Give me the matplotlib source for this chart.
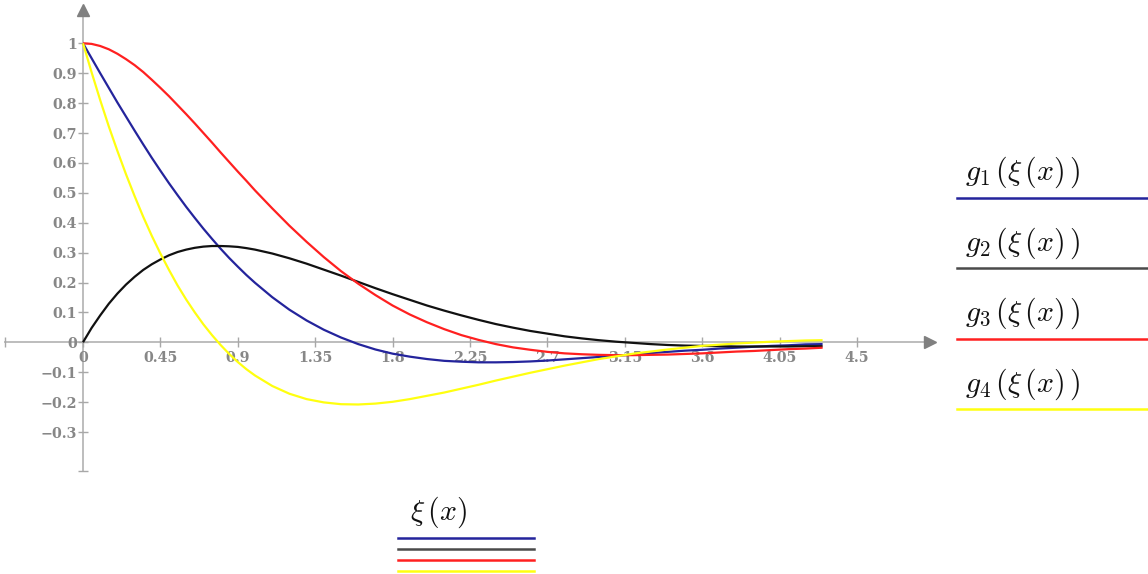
import matplotlib
matplotlib.use("Agg")
import matplotlib.pyplot as plt
from matplotlib.lines import Line2D

# ---- data ----
x_vals = [0.0, 0.05, 0.1, 0.15, 0.2, 0.25, 0.3, 0.35, 0.4, 0.45, 0.5, 0.55, 0.6, 0.65,
          0.7, 0.75, 0.8, 0.85, 0.9, 0.95,
          1.0, 1.1, 1.2, 1.3, 1.4, 1.5, 1.6, 1.7, 1.8, 1.9,
          2.0, 2.1, 2.2, 2.3, 2.4, 2.5, 2.6, 2.7, 2.8, 2.9,
          3.0, 3.1, 3.2, 3.3, 3.4, 3.5, 3.6, 3.7, 3.8, 3.9,
          4.0, 4.1, 4.2, 4.3]

g1 = [1.000, 0.950, 0.900, 0.851, 0.802, 0.755, 0.708, 0.662, 0.617, 0.574, 0.532, 0.492,
      0.453, 0.416, 0.380, 0.346, 0.313, 0.282, 0.253, 0.225,
      0.199, 0.151, 0.109, 0.073, 0.042, 0.016, -0.006, -0.024, -0.038, -0.048,
      -0.056, -0.062, -0.065, -0.067, -0.067, -0.066, -0.064, -0.061, -0.057, -0.053,
      -0.049, -0.045, -0.041, -0.036, -0.032, -0.028, -0.025, -0.021, -0.018, -0.015,
      -0.012, -0.010, -0.007, -0.006]

g2 = [0.000, 0.048, 0.090, 0.129, 0.163, 0.193, 0.219, 0.242, 0.261, 0.277, 0.291, 0.302,
      0.310, 0.316, 0.320, 0.322, 0.322, 0.321, 0.319, 0.315,
      0.310, 0.297, 0.281, 0.263, 0.243, 0.223, 0.202, 0.181, 0.161, 0.142,
      0.123, 0.106, 0.090, 0.075, 0.061, 0.049, 0.038, 0.029, 0.020, 0.013,
      0.007, 0.002, -0.002, -0.006, -0.009, -0.011, -0.012, -0.013, -0.014, -0.014,
      -0.014, -0.014, -0.013, -0.013]

g3 = [1.000, 0.998, 0.991, 0.980, 0.965, 0.947, 0.927, 0.904, 0.878, 0.851, 0.823, 0.793,
      0.763, 0.732, 0.700, 0.668, 0.635, 0.603, 0.571, 0.540,
      0.508, 0.448, 0.390, 0.336, 0.285, 0.238, 0.196, 0.158, 0.123, 0.093,
      0.067, 0.044, 0.024, 0.008, -0.006, -0.017, -0.025, -0.032, -0.037, -0.040,
      -0.042, -0.043, -0.043, -0.042, -0.041, -0.039, -0.037, -0.034, -0.031, -0.029,
      -0.026, -0.023, -0.021, -0.018]

g4 = [1.000, 0.903, 0.810, 0.722, 0.640, 0.562, 0.489, 0.420, 0.356, 0.297, 0.242, 0.190,
      0.143, 0.100, 0.060, 0.024, -0.009, -0.039, -0.066, -0.090,
      -0.111, -0.146, -0.172, -0.190, -0.201, -0.207, -0.208, -0.205, -0.199, -0.190,
      -0.179, -0.168, -0.155, -0.142, -0.128, -0.115, -0.102, -0.090, -0.078, -0.067,
      -0.056, -0.047, -0.038, -0.031, -0.024, -0.018, -0.012, -0.008, -0.004, -0.001,
      0.002, 0.004, 0.006, 0.007]

x_ticks = [0, 0.45, 0.9, 1.35, 1.8, 2.25, 2.7, 3.15, 3.6, 4.05, 4.5]
x_tick_labels = ["0", "0.45", "0.9", "1.35", "1.8", "2.25", "2.7", "3.15", "3.6", "4.05", "4.5"]
y_ticks = [-0.3, -0.2, -0.1, 0, 0.1, 0.2, 0.3, 0.4, 0.5, 0.6, 0.7, 0.8, 0.9, 1]
y_tick_labels = ["\u22120.3", "\u22120.2", "\u22120.1", "0", "0.1", "0.2", "0.3",
                 "0.4", "0.5", "0.6", "0.7", "0.8", "0.9", "1"]

series_labels = [r"$g_1\,(\xi\,(x)\,)$", r"$g_2\,(\xi\,(x)\,)$",
                 r"$g_3\,(\xi\,(x)\,)$", r"$g_4\,(\xi\,(x)\,)$"]
axis_label = r"$\xi\,(x)$"
series_colors = ["#24249c", "#111111", "#ff2020", "#ffff10"]
legend_colors = ["#24249c", "#4a4a4a", "#ff2020", "#ffff10"]

# ---- figure ----
plt.rcParams["mathtext.fontset"] = "cm"
W, H = 1148, 574
fig = plt.figure(figsize=(W / 100, H / 100), dpi=100)
ax = fig.add_axes([0, 0, 1, 1])

X0, SX = 83.0, 172.0   # pixel of x=0, pixels per unit
Y0, SY = 342.3, 299.0  # pixel of y=0, pixels per unit
ax.set_xlim(-X0 / SX, (W - X0) / SX)
ax.set_ylim((Y0 - H) / SY, Y0 / SY)

axis_col = "#bdbdbd"
ax.patch.set_visible(False)
for s in ["top", "right"]:
    ax.spines[s].set_visible(False)
ax.spines["left"].set_position(("data", 0))
ax.spines["bottom"].set_position(("data", 0))
ax.spines["bottom"].set_bounds(-0.453, 4.93)
ax.spines["left"].set_bounds(-0.43, 1.10)
for s in ["left", "bottom"]:
    ax.spines[s].set_color(axis_col)
    ax.spines[s].set_linewidth(1.4)
    ax.spines[s].set_zorder(1)

lab_font = dict(family="DejaVu Serif", weight="bold", size=10.3)
ax.set_xticks([-0.453] + x_ticks)
ax.set_xticklabels([""] + x_tick_labels, fontdict=lab_font, color="#878787")
ax.set_yticks([-0.43] + y_ticks)
ax.set_yticklabels([""] + y_tick_labels, fontdict=lab_font, color="#878787")
ax.tick_params(axis="x", direction="inout", length=7, width=1.0, color="#a8a8a8", pad=3)
ax.tick_params(axis="y", direction="inout", length=7, width=1.0, color="#a8a8a8", pad=1.0)

# arrow heads
ax.plot([4.925], [0], marker=">", ms=8, color="#808080", mec="#808080", clip_on=False, zorder=2)
ax.plot([0], [1.11], marker="^", ms=8, color="#808080", mec="#808080", clip_on=False, zorder=2)

for ys, c in zip([g1, g2, g3, g4], series_colors):
    ax.plot(x_vals, ys, color=c, lw=1.6, zorder=3, solid_capstyle="butt")

# ---- right legend ----
def fx(px):
    return px / W

def fy(py):
    return 1 - py / H

text_y = [172, 243, 313, 384]
line_y = [198.3, 268.3, 339.3, 409.3]
for lbl, c, ty, ly in zip(series_labels, legend_colors, text_y, line_y):
    fig.text(fx(965), fy(ty), lbl, fontsize=21.5, ha="left", va="center", color="#111111")
    fig.add_artist(Line2D([fx(957), fx(1148)], [fy(ly), fy(ly)], color=c, lw=1.8,
                          transform=fig.transFigure))

# ---- bottom legend ----
fig.text(fx(410), fy(512), axis_label, fontsize=21.5, ha="left", va="center", color="#111111")
for c, ly in zip(legend_colors, [538.3, 549.3, 560.0, 571.0]):
    fig.add_artist(Line2D([fx(398), fx(534)], [fy(ly), fy(ly)], color=c, lw=1.8,
                          transform=fig.transFigure))

fig.savefig("out.png", dpi=100)
